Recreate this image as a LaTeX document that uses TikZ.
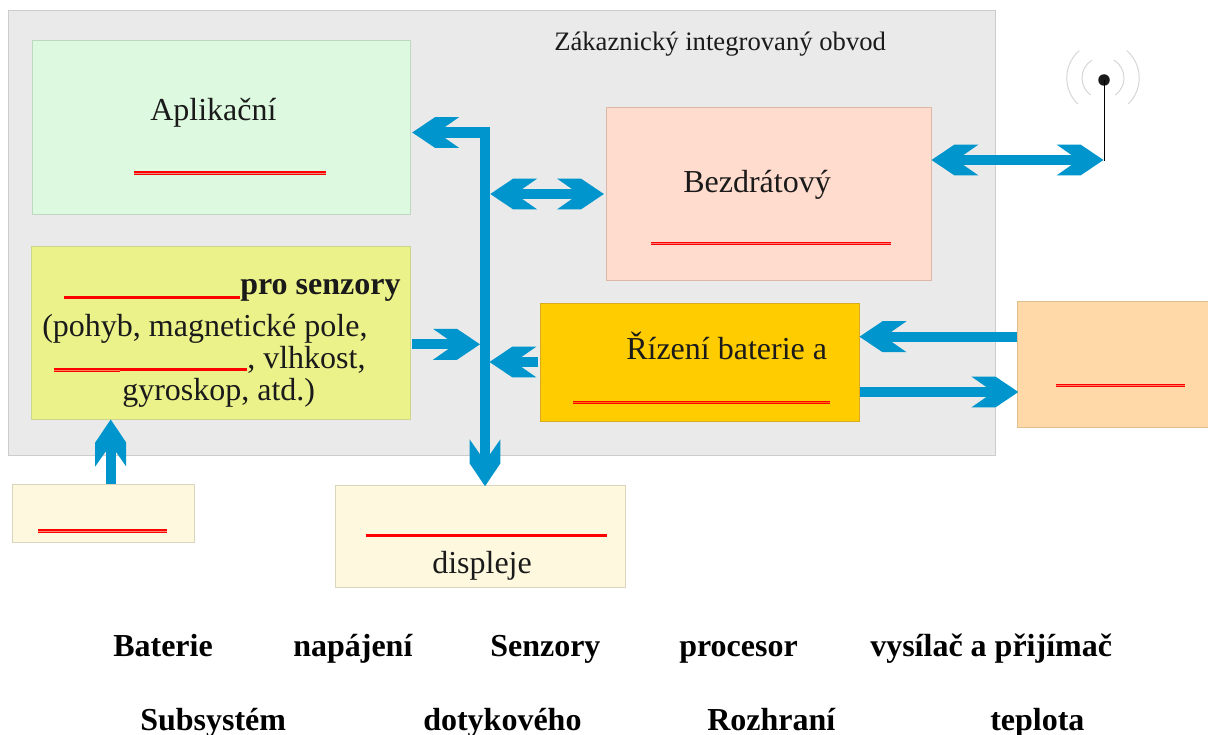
\documentclass[tikz,border=0pt]{standalone}
\usepackage{fontspec}
\setmainfont{Liberation Serif}
\usetikzlibrary{arrows.meta}
\definecolor{flowblue}{HTML}{0095CC}
\definecolor{chipfill}{HTML}{EAEAEA}
\definecolor{chipline}{HTML}{CCCCCC}
\definecolor{appfill}{HTML}{DDF9E0}
\definecolor{appline}{HTML}{BFD9C0}
\definecolor{radiofill}{HTML}{FFDCCE}
\definecolor{radioline}{HTML}{DDB8A8}
\definecolor{sensfill}{HTML}{EBF28A}
\definecolor{sensline}{HTML}{CDD58C}
\definecolor{powerfill}{HTML}{FFCC00}
\definecolor{powerline}{HTML}{D9AC20}
\definecolor{battfill}{HTML}{FFD9A8}
\definecolor{battline}{HTML}{E0BE90}
\definecolor{creamfill}{HTML}{FEF9DE}
\definecolor{creamline}{HTML}{DAD5BC}
\definecolor{inktext}{HTML}{1A1A1A}
\definecolor{waveline}{HTML}{D4D4D4}
% block arrow head: notch at the origin, dimensions in reference pixels (0.75pt)
\pgfdeclarearrow{
  name=BlockHead,
  setup code={
    \pgfarrowssettipend{24pt}
    \pgfarrowssetlineend{1.5pt}
    \pgfarrowssetbackend{-11.25pt}
    \pgfarrowssetvisualbackend{-11.25pt}
    \pgfarrowsupperhullpoint{-11.25pt}{11.6pt}
    \pgfarrowsupperhullpoint{6.75pt}{11.6pt}
    \pgfarrowsupperhullpoint{24pt}{0pt}
  },
  drawing code={
    \pgfpathmoveto{\pgfpoint{24pt}{0pt}}
    \pgfpathlineto{\pgfpoint{6.75pt}{11.6pt}}
    \pgfpathlineto{\pgfpoint{-11.25pt}{11.6pt}}
    \pgfpathlineto{\pgfpoint{0pt}{3.75pt}}
    \pgfpathlineto{\pgfpoint{0pt}{-3.75pt}}
    \pgfpathlineto{\pgfpoint{-11.25pt}{-11.6pt}}
    \pgfpathlineto{\pgfpoint{6.75pt}{-11.6pt}}
    \pgfpathclose
    \pgfusepathqfill
  }
}
\tikzset{
  block/.style={draw=#1line,fill=#1fill,line width=0.75pt,inner sep=0pt,anchor=north west},
  flow/.style={draw=flowblue,line width=7.7pt,-{BlockHead[]},line join=miter},
  flowboth/.style={draw=flowblue,line width=7.7pt,{BlockHead[]}-{BlockHead[]},line join=miter},
  blank/.style={draw=red,line width=1.05pt,double=red!45!#1,double distance=0.4pt},
  thickblank/.style={draw=red,line width=2.5pt},
  wave/.style={draw=waveline,line width=0.7pt},
  txt/.style={anchor=base west,inner sep=0pt,text=inktext,font=\fontsize{24pt}{27pt}\selectfont},
  small/.style={anchor=base west,inner sep=0pt,text=inktext,font=\fontsize{20pt}{24pt}\selectfont},
  bank/.style={anchor=base west,inner sep=0pt,text=black,font=\fontsize{24pt}{27pt}\selectfont\bfseries},
}
\begin{document}
\begin{tikzpicture}[x=0.75pt,y=-0.75pt]
\useasboundingbox (0,0) rectangle (1208,735);
% boxes
\node[block=chip,minimum width=987*0.75pt,minimum height=444*0.75pt] (chip) at (8,10.5) {};
\node[block=app,minimum width=378*0.75pt,minimum height=173*0.75pt] (app) at (31.5,40.5) {};
\node[block=radio,minimum width=325*0.75pt,minimum height=172*0.75pt] (radio) at (605.5,107.5) {};
\node[block=sens,minimum width=379*0.75pt,minimum height=173*0.75pt] (sens) at (30.5,245.5) {};
\node[block=power,minimum width=319*0.75pt,minimum height=118*0.75pt] (power) at (539.5,302.5) {};
\node[block=batt,minimum width=192*0.75pt,minimum height=126*0.75pt] (batt) at (1017,300.5) {};
\node[block=cream,minimum width=182*0.75pt,minimum height=58*0.75pt] (cell) at (11.5,483.5) {};
\node[block=cream,minimum width=290*0.75pt,minimum height=102*0.75pt] (disp) at (334.5,484.5) {};
% antenna
\coordinate (antfoot) at (1104,161);
\coordinate (antarrow) at (1103.5,160);
\coordinate (wavecentre) at (1103,78);
\node[circle,fill=inktext,inner sep=0pt,minimum size=11.5*0.75pt] (antdot) at (1104,80) {};
\draw[black,line width=0.7pt] (antdot.center) -- (antfoot);
\draw[wave] (wavecentre) ++(121:15.75pt) arc[start angle=121,end angle=234,radius=15.75pt];
\draw[wave] (wavecentre) ++(59:15.75pt) arc[start angle=59,end angle=-54,radius=15.75pt];
\draw[wave] (wavecentre) ++(131:27.2pt) arc[start angle=131,end angle=226,radius=27.2pt];
\draw[wave] (wavecentre) ++(49:27.2pt) arc[start angle=49,end angle=-46,radius=27.2pt];
% connectors
\coordinate (buscorner) at (485,132.5);
\coordinate (busradio) at (490.3,194);
\coordinate (bussens) at (480,344.3);
\coordinate (buspower) at (489.5,362);
\draw[flowboth,shorten <=1.3pt,shorten >=-1.3pt] (app.east |- buscorner) -- (buscorner) -- (buscorner |- disp.north);
\draw[flowboth,shorten >=1.2pt] (busradio) -- (radio.west |- busradio);
\draw[flowboth] (radio.east |- antarrow) -- (antarrow);
\draw[flow] (sens.east |- bussens) ++(1.5,0) -- (bussens);
\draw[flow,shorten <=1pt] (power.west |- buspower) -- (buspower);
\coordinate (battin) at (0,336.7);
\coordinate (battout) at (0,392);
\draw[flow] (batt.west |- battin) -- (power.east |- battin);
\draw[flow,shorten >=-1pt] (power.east |- battout) -- (batt.west |- battout);
\coordinate (cellx) at (110.7,0);
\draw[flow] (cellx |- cell.north) -- (cellx |- sens.south);
% blanks
\draw[blank=appfill] (134,173) -- (326,173);
\draw[blank=radiofill] (651,243.5) -- (891,243.5);
\draw[thickblank] (64,297.5) -- (240,297.5);
\draw[blank=sensfill] (54,370) -- (120,370);
\draw[thickblank] (120,369.5) -- (247,369.5);
\draw[blank=powerfill] (573,402.5) -- (830,402.5);
\draw[blank=battfill] (1056,385.5) -- (1185,385.5);
\draw[blank=creamfill] (38,531) -- (167,531);
\draw[thickblank] (366,535.5) -- (607,535.5);
% labels
\node[small] (chiplabel) at (554,51) {Zákaznický integrovaný obvod};
\node[txt] (applabel) at (150,121) {Aplikační};
\node[txt] (radiolabel) at (683,192) {Bezdrátový};
\node[txt,font=\fontsize{24pt}{27pt}\selectfont\bfseries] (senslabel) at (240,294) {pro senzory};
\node[txt] (sensa) at (42,336) {(pohyb, magnetické pole,};
\node[txt] (sensb) at (247,368) {, vlhkost,};
\node[txt] (sensc) at (122,400) {gyroskop, atd.)};
\node[txt] (powerlabel) at (626,359) {Řízení baterie a};
\node[txt] (displabel) at (432,573) {displeje};
\node[bank] (w1) at (113,656) {Baterie};
\node[bank] (w2) at (293,656) {napájení};
\node[bank] (w3) at (490,656) {Senzory};
\node[bank] (w4) at (679,656) {procesor};
\node[bank] (w5) at (870,656) {vysílač a přijímač};
\node[bank] (w6) at (140,730) {Subsystém};
\node[bank] (w7) at (423,730) {dotykového};
\node[bank] (w8) at (707,730) {Rozhraní};
\node[bank] (w9) at (990,730) {teplota};
\end{tikzpicture}
\end{document}
